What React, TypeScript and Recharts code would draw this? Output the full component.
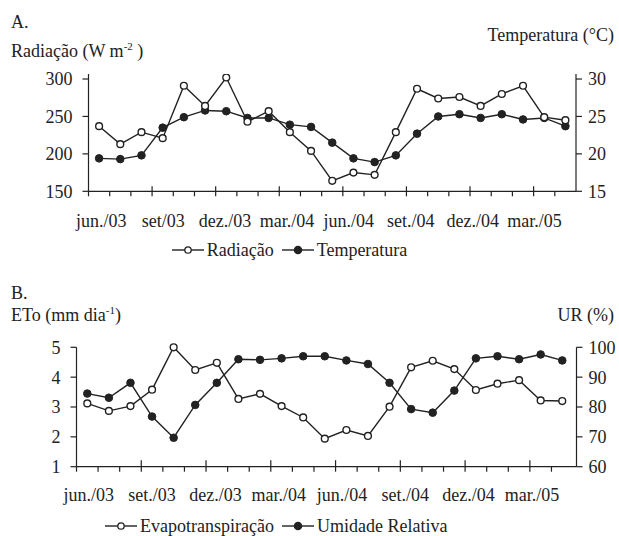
import React from 'react';
import { LineChart, Line, XAxis, YAxis, Legend } from 'recharts';

const FONT = '"Liberation Serif", "Times New Roman", serif';
const INK = '#222';

// 23 monthly observations, jun/03 .. abr/05
const months = ['jun/03', 'jul/03', 'ago/03', 'set/03', 'out/03', 'nov/03', 'dez/03', 'jan/04', 'fev/04', 'mar/04', 'abr/04', 'mai/04', 'jun/04', 'jul/04', 'ago/04', 'set/04', 'out/04', 'nov/04', 'dez/04', 'jan/05', 'fev/05', 'mar/05', 'abr/05'];

const radiacao = [237, 213, 229, 221, 291, 264, 302, 243, 257, 229, 204, 164, 175, 172, 229, 287, 274, 276, 264, 280, 291, 249, 245];
const temperatura = [19.4, 19.3, 19.8, 23.5, 24.9, 25.8, 25.7, 24.8, 24.8, 23.9, 23.6, 21.5, 19.4, 18.9, 19.8, 22.7, 25.0, 25.3, 24.8, 25.3, 24.6, 24.8, 23.7];
const eto = [3.12, 2.87, 3.03, 3.58, 5.0, 4.24, 4.48, 3.27, 3.44, 3.03, 2.65, 1.94, 2.23, 2.03, 3.01, 4.33, 4.55, 4.27, 3.57, 3.78, 3.9, 3.22, 3.2];
const umidade = [84.5, 83.1, 88.1, 76.8, 69.7, 80.7, 88.1, 96.0, 95.8, 96.3, 97.0, 97.0, 95.6, 94.4, 88.1, 79.3, 78.1, 85.5, 96.3, 97.0, 96.0, 97.6, 95.6];

const xLabelsA = ['jun./03', 'set/03', 'dez./03', 'mar./04', 'jun./04', 'set./04', 'dez./04', 'mar./05'];
const xLabelsB = ['jun./03', 'set./03', 'dez./03', 'mar./04', 'jun./04', 'set./04', 'dez./04', 'mar./05'];

const radTicks = [150, 200, 250, 300];
const tempTicks = [15, 20, 25, 30];
const etoTicks = [1, 2, 3, 4, 5];
const urTicks = [60, 70, 80, 90, 100];

const dataA = months.map((m, i) => ({ i, month: m, rad: radiacao[i], temp: temperatura[i] }));
const dataB = months.map((m, i) => ({ i, month: m, eto: eto[i], ur: umidade[i] }));

// tick marks sit on the boundaries between months
const boundaries = months.map((_, k) => k - 0.5);

// the printed labels are spaced a little tighter than the quarterly tick marks
const labelSlots = (labels: string[], start: number, step: number) =>
  labels.map((text, k) => ({ value: +(start + step * k).toFixed(4), text }));
const slotsA = labelSlots(xLabelsA, 0.104, 2.92);
const slotsB = labelSlots(xLabelsB, 0.07, 2.932);

const MonthTick = (props: any) => {
  const { x, y, payload, up, slots, dy } = props;
  const v = payload.value;
  const slot = slots.find((s: any) => Math.abs(s.value - v) < 1e-3);
  if (slot) {
    return (
      <text x={x} y={y + dy} textAnchor="middle" fontSize={18} fontFamily={FONT} fill={INK}>
        {slot.text}
      </text>
    );
  }
  const k = Math.round(v + 0.5);
  const major = k % 3 === 0 && k > 0;
  return <line x1={x} x2={x} y1={major ? y - up : y} y2={y + 5} stroke={INK} strokeWidth={1.2} />;
};

const LegendContent = (props: any) => {
  const { payload, filledKeys } = props;
  return (
    <div style={{ display: 'flex', alignItems: 'center', fontFamily: FONT, fontSize: 18, lineHeight: '20px', color: INK, whiteSpace: 'nowrap' }}>
      {(payload || []).map((p: any, idx: number) => {
        const filled = filledKeys.includes(p.dataKey);
        return (
          <div key={idx} style={{ display: 'flex', alignItems: 'center', marginRight: 8 }}>
            <svg width={32} height={12} style={{ display: 'block' }}>
              <line x1={0} y1={6} x2={32} y2={6} stroke={INK} strokeWidth={1.4} />
              <circle cx={16} cy={6} r={filled ? 3.6 : 3.2} fill={filled ? INK : '#fff'} stroke={INK} strokeWidth={1.3} />
            </svg>
            <span style={{ marginLeft: 3 }}>{p.value}</span>
          </div>
        );
      })}
    </div>
  );
};

const Title = ({ left, right, baseline, children }: any) => (
  <div
    style={{
      position: 'absolute',
      left,
      right,
      top: baseline - 16,
      fontFamily: FONT,
      fontSize: 18,
      lineHeight: '20px',
      color: INK,
      whiteSpace: 'nowrap',
    }}
  >
    {children}
  </div>
);

const Sup = ({ children }: any) => (
  <span style={{ fontSize: 11, position: 'relative', top: -7 }}>{children}</span>
);

const tickStyle = { fill: INK, fontSize: 18, fontFamily: FONT };
const axisLine = { stroke: INK, strokeWidth: 1.2 };
const tickLine = { stroke: INK, strokeWidth: 1.2 };

const openDot = { r: 3.4, fill: '#fff', stroke: INK, strokeWidth: 1.4 };
const fullDot = { r: 3.8, fill: INK, stroke: INK, strokeWidth: 1 };

export default function App() {
  return (
    <div style={{ position: 'absolute', left: 0, top: 0, width: 619, height: 536, background: '#fff', fontFamily: FONT }}>
      <Title left={11} baseline={28}>A.</Title>
      <Title left={11} baseline={57}>Radiação (W m<Sup>-2</Sup> )</Title>
      <Title right={5} baseline={41}>Temperatura (°C)</Title>

      <div style={{ position: 'absolute', left: 0, top: 0 }}>
        <LineChart width={619} height={265} data={dataA} margin={{ top: 74, right: 0, bottom: 33.7, left: 0 }}>
          <XAxis
            xAxisId="m"
            type="number"
            dataKey="i"
            domain={[-0.5, 22.5]}
            allowDataOverflow
            ticks={[...boundaries, ...slotsA.map((s) => s.value)]}
            interval={0}
            height={40}
            tickSize={0}
            tickMargin={0}
            tickLine={false}
            axisLine={axisLine}
            tick={<MonthTick up={5} slots={slotsA} dy={35.7} />}
          />
          <YAxis
            yAxisId="L"
            orientation="left"
            width={88.5}
            domain={[150, 306.7]}
            allowDataOverflow
            ticks={radTicks}
            interval={0}
            tickSize={6}
            tickMargin={10}
            tick={tickStyle}
            axisLine={axisLine}
            tickLine={tickLine}
          />
          <YAxis
            yAxisId="R"
            orientation="right"
            width={43}
            domain={[15, 30.67]}
            allowDataOverflow
            ticks={tempTicks}
            interval={0}
            tickSize={6}
            tickMargin={6}
            tick={tickStyle}
            axisLine={axisLine}
            tickLine={tickLine}
          />
          <Line xAxisId="m" yAxisId="R" dataKey="temp" name="Temperatura" stroke={INK} strokeWidth={1.4} dot={fullDot} isAnimationActive={false} />
          <Line xAxisId="m" yAxisId="L" dataKey="rad" name="Radiação" stroke={INK} strokeWidth={1.4} dot={openDot} isAnimationActive={false} />
          <Legend
            layout="horizontal"
            verticalAlign="middle"
            align="center"
            wrapperStyle={{ left: 171.7, top: 240, width: 'auto', height: 'auto' }}
            itemSorter={(item: any) => (item.dataKey === 'rad' ? 0 : 1)}
            content={<LegendContent filledKeys={['temp']} />}
          />
        </LineChart>
      </div>

      <Title left={11} baseline={299}>B.</Title>
      <Title left={11} baseline={321}>ETo (mm dia<Sup>-1</Sup>)</Title>
      <Title right={5} baseline={321}>UR (%)</Title>

      <div style={{ position: 'absolute', left: 0, top: 270 }}>
        <LineChart width={619} height={266} data={dataB} margin={{ top: 77.3, right: 0, bottom: 29.3, left: 0 }}>
          <XAxis
            xAxisId="m"
            type="number"
            dataKey="i"
            domain={[-0.5, 22.66]}
            allowDataOverflow
            ticks={[...boundaries, ...slotsB.map((s) => s.value)]}
            interval={0}
            height={40}
            tickSize={0}
            tickMargin={0}
            tickLine={false}
            axisLine={axisLine}
            tick={<MonthTick up={6.5} slots={slotsB} dy={34.3} />}
          />
          <YAxis
            yAxisId="L"
            orientation="left"
            width={76.5}
            domain={[1, 5]}
            ticks={etoTicks}
            interval={0}
            tickSize={6}
            tickMargin={10}
            tick={tickStyle}
            axisLine={axisLine}
            tickLine={tickLine}
          />
          <YAxis
            yAxisId="R"
            orientation="right"
            width={42.5}
            domain={[60, 100]}
            ticks={urTicks}
            interval={0}
            tickSize={6}
            tickMargin={6}
            tick={tickStyle}
            axisLine={axisLine}
            tickLine={tickLine}
          />
          <Line xAxisId="m" yAxisId="R" dataKey="ur" name="Umidade Relativa" stroke={INK} strokeWidth={1.4} dot={fullDot} isAnimationActive={false} />
          <Line xAxisId="m" yAxisId="L" dataKey="eto" name="Evapotranspiração" stroke={INK} strokeWidth={1.4} dot={openDot} isAnimationActive={false} />
          <Legend
            layout="horizontal"
            verticalAlign="middle"
            align="center"
            wrapperStyle={{ left: 105, top: 246, width: 'auto', height: 'auto' }}
            itemSorter={(item: any) => (item.dataKey === 'eto' ? 0 : 1)}
            content={<LegendContent filledKeys={['ur']} />}
          />
        </LineChart>
      </div>
    </div>
  );
}
